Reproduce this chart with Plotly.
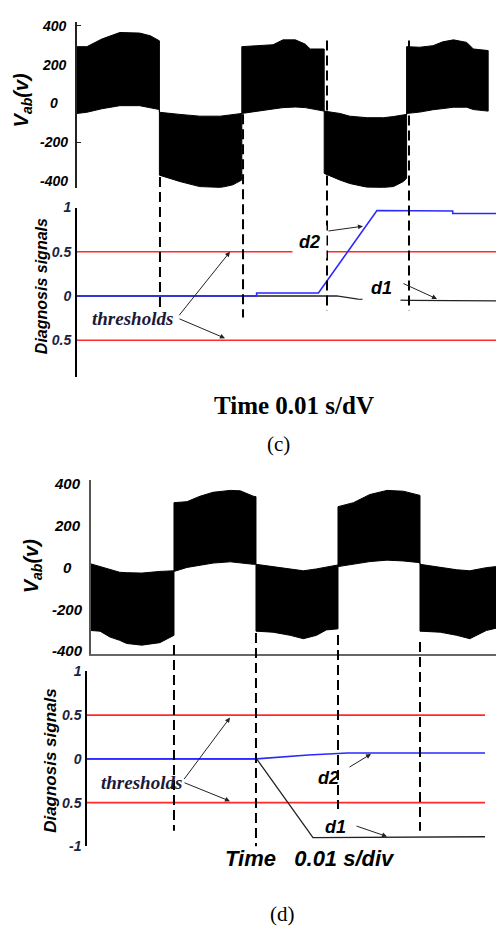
import plotly.graph_objects as go

W, H = 496, 933

# ---------------- data ----------------
# panel (c): PWM line-voltage envelope (V) vs time (ms)
c_time = [0, 1.2, 3.0, 5.2, 7.6, 8.9, 10.0,
          10.0, 12.5, 14.9, 17.4, 18.9, 20.0,
          20.0, 23.8, 25.0, 26.5, 27.7, 28.3, 30.0,
          30.0, 31.9, 33.1, 35.2, 37.2, 38.4, 39.6, 40.0,
          40.0, 41.6, 43.2, 44.4, 45.7, 47.3, 48.1, 49.9]
c_upper = [292, 292, 331, 365, 362, 348, 322,
           -46, -57, -66, -66, -60, -52,
           292, 302, 327, 327, 305, 280, 280,
           -40, -52, -66, -74, -74, -68, -60, -57,
           292, 289, 297, 317, 327, 314, 280, 272]
c_lower = [-52, -46, -28, -12, -12, -22, -32,
           -370, -403, -429, -434, -420, -395,
           -52, -29, -22, -19, -22, -24, -40,
           -361, -395, -413, -432, -434, -429, -403, -386,
           -52, -45, -33, -27, -20, -20, -32, -40]
c_marks = [10.07, 20.15, 30.34, 40.29]
c_d2_t = [0, 21.8, 21.8, 29.3, 36.4, 41.4, 41.4, 45.6, 45.6, 50.85]
c_d2_v = [0, 0, 0.033, 0.033, 0.967, 0.967, 0.96, 0.96, 0.933, 0.933]
c_d1_t = [0, 31.5, 34.1, 40.4, 50.85]
c_d1_v = [0, 0, -0.035, -0.05, -0.055]
c_thr_t = [0, 50.85]

# panel (d)
d_time = [0, 1.1, 2.3, 3.5, 4.35, 6.2, 8.4, 10.12,
          10.12, 11.7, 13.3, 14.9, 17.0, 18.2, 19.8, 20.12,
          20.12, 22.2, 24.3, 25.9, 27.5, 28.7, 30.12,
          30.12, 32.0, 34.0, 36.1, 38.1, 40.12,
          40.12, 42.6, 44.6, 46.2, 48.2, 49.39]
d_upper = [16, 3, -12, -24, -26, -28, -20, -17,
           309, 314, 340, 359, 368, 366, 340, 338,
           14, 3, -5, -17, -8, 2, 11,
           290, 309, 348, 368, 364, 344,
           14, -2, -12, -17, -2, 3]
d_lower = [-303, -306, -334, -350, -365, -373, -361, -326,
           -20, -1, 11, 20, 26, 19, 14, 14,
           -306, -311, -326, -342, -326, -300, -295,
           3, 14, 27, 34, 30, 22,
           -306, -311, -326, -342, -303, -292]
d_marks = [10.12, 20.12, 30.12, 40.12]
d_d2_t = [-0.49, 20.2, 26.5, 31.3, 48.05]
d_d2_v = [0, 0, 0.045, 0.067, 0.067]
d_d1_t = [-0.49, 20.2, 27.07, 48.05]
d_d1_v = [0, 0, -0.9, -0.89]
d_thr_t = [-0.49, 48.05]

thresholds = [0.5, -0.5]
vab_ticks = [400, 200, 0, -200, -400]
c_vab_tickmarks = [400, -200]
diag_ticks_c = [1, 0.5, 0, -0.5]
diag_text_c = ["1", "0.5", "0", "0.5"]
diag_ticks_d = [1, 0.5, 0, -0.5, -1]
diag_text_d = ["1", "0.5", "0", "0.5", "-1"]


def px(p):
    return p / W


def py(p):
    return 1 - p / H


SANS = "Liberation Sans, Arial, sans-serif"
SERIF = "Liberation Serif, Times New Roman, serif"

fig = go.Figure()

# waveforms (filled PWM envelope)
fig.add_trace(go.Scatter(x=c_time + c_time[::-1], y=c_upper + c_lower[::-1],
                         fill="toself", fillcolor="black", mode="lines",
                         line=dict(color="black", width=1), xaxis="x", yaxis="y",
                         hoverinfo="skip"))
fig.add_trace(go.Scatter(x=d_time + d_time[::-1], y=d_upper + d_lower[::-1],
                         fill="toself", fillcolor="black", mode="lines",
                         line=dict(color="black", width=1), xaxis="x3", yaxis="y3",
                         hoverinfo="skip"))

# diagnosis signals (c)
for th in thresholds:
    fig.add_trace(go.Scatter(x=c_thr_t, y=[th, th], mode="lines",
                             line=dict(color="#ff2a2a", width=1.6), xaxis="x2", yaxis="y2"))
fig.add_trace(go.Scatter(x=c_d1_t, y=c_d1_v, mode="lines",
                         line=dict(color="#222222", width=1.3), xaxis="x2", yaxis="y2"))
fig.add_trace(go.Scatter(x=c_d2_t, y=c_d2_v, mode="lines",
                         line=dict(color="#2a2aff", width=1.6), xaxis="x2", yaxis="y2"))

# diagnosis signals (d)
for th in thresholds:
    fig.add_trace(go.Scatter(x=d_thr_t, y=[th, th], mode="lines",
                             line=dict(color="#ff2a2a", width=1.6), xaxis="x4", yaxis="y4"))
fig.add_trace(go.Scatter(x=d_d1_t, y=d_d1_v, mode="lines",
                         line=dict(color="#222222", width=1.3), xaxis="x4", yaxis="y4"))
fig.add_trace(go.Scatter(x=d_d2_t, y=d_d2_v, mode="lines",
                         line=dict(color="#2a2aff", width=1.6), xaxis="x4", yaxis="y4"))

# dashed fault markers
c_tops = [172, 108, 33, 33]
c_bots = [307, 315, 308, 308]
d_tops = [648, 636, 638, 645]
d_bots = [837, 853, 815, 837]
shapes = []
for t, a, b in zip(c_marks, c_tops, c_bots):
    shapes.append(dict(type="line", xref="x", yref="paper", x0=t, x1=t, y0=py(a), y1=py(b),
                       line=dict(color="black", width=2, dash="10px,5px")))
for t, a, b in zip(d_marks, d_tops, d_bots):
    shapes.append(dict(type="line", xref="x3", yref="paper", x0=t, x1=t, y0=py(a), y1=py(b),
                       line=dict(color="black", width=2, dash="10px,5px")))

ann = []


def label(x, y, text, font, angle=0, **kw):
    d = dict(x=px(x), y=py(y), xref="paper", yref="paper", showarrow=False, text=text,
             font=font, textangle=angle, xanchor="center", yanchor="middle")
    d.update(kw)
    return d


# tick labels of voltage axes (centered like original)
for v in vab_ticks:
    ann.append(dict(x=px(54), y=v, xref="paper", yref="y", showarrow=False,
                    text="<b><i>%d</i></b>" % v, font=dict(family=SANS, size=14, color="black"),
                    xanchor="center", yanchor="middle"))
    ann.append(dict(x=px(67), y=v, xref="paper", yref="y3", showarrow=False,
                    text="<b><i>%d</i></b>" % v, font=dict(family=SANS, size=15, color="black"),
                    xanchor="center", yanchor="middle"))

# axis titles
vab = "<b><i>V<sub>ab</sub>(v)</i></b>"
ann.append(label(22, 94, vab, dict(family=SANS, size=20, color="black"), -90))
ann.append(label(32, 568, vab, dict(family=SANS, size=20, color="black"), -90))
ann.append(label(41, 283, "<b><i>Diagnosis signals</i></b>",
                 dict(family=SANS, size=16, color="black"), -90))
ann.append(label(51, 766, "<b><i>Diagnosis signals</i></b>",
                 dict(family=SANS, size=17, color="black"), -90))

# thresholds labels + arrows
thr_font = dict(family=SERIF, size=19, color="#1a1a3a")
ann.append(label(132, 316, "<b><i>thresholds</i></b>", thr_font))
ann.append(label(141, 788, "<b><i>thresholds</i></b>", thr_font))


def arrow(hx, hy, tx, ty):
    return dict(x=px(hx), y=py(hy), xref="paper", yref="paper", ax=tx - hx, ay=ty - hy,
                axref="pixel", ayref="pixel", text="", showarrow=True, arrowhead=2,
                arrowsize=1, arrowwidth=1, arrowcolor="#222222", standoff=0, startstandoff=0)


ann += [arrow(230, 248, 178, 313), arrow(225, 336, 178, 316),
        arrow(363, 222, 327, 227), arrow(437, 296, 402, 280),
        arrow(230, 722, 183, 785), arrow(230, 807, 183, 788),
        arrow(371, 759, 348, 773), arrow(387, 843, 355, 832)]

lab_font = dict(family=SANS, size=18, color="black")
ann.append(label(309, 238, "<b><i>d2</i></b>", lab_font, bgcolor="white", borderpad=6))
ann.append(label(381, 285, "<b><i>d1</i></b>", lab_font, bgcolor="white", borderpad=8))
ann.append(label(328, 783, "<b><i>d2</i></b>", lab_font))
ann.append(label(335, 833, "<b><i>d1</i></b>", lab_font))

# time labels and captions
ann.append(label(294, 404, "<b>Time 0.01 s/dV</b>", dict(family=SERIF, size=25, color="black")))
ann.append(label(278, 444, "(c)", dict(family=SERIF, size=21, color="black")))
ann.append(label(310, 865, "<b><i>Time&nbsp;&nbsp;&nbsp;0.01 s/div</i></b>",
                 dict(family=SANS, size=22, color="black")))
ann.append(label(282, 922, "(d)", dict(family=SERIF, size=21, color="black")))

diag_tickfont = dict(family=SANS, size=14, color="#1c2340")

fig.update_layout(
    width=W, height=H, margin=dict(l=0, r=0, t=0, b=0),
    paper_bgcolor="white", plot_bgcolor="white", showlegend=False,
    shapes=shapes, annotations=ann,
    xaxis=dict(domain=[px(77), 1], range=[0, 50.85], visible=False, anchor="y"),
    yaxis=dict(domain=[py(183), py(14)], range=[-435.4, 420.3], anchor="x",
               showline=True, linecolor="#222222", linewidth=1.5, showgrid=False,
               zeroline=False, showticklabels=False, ticks="inside", ticklen=4,
               tickcolor="#222222", tickvals=c_vab_tickmarks),
    xaxis2=dict(domain=[px(77), 1], range=[0, 50.85], visible=False, anchor="y2"),
    yaxis2=dict(domain=[py(375), py(203)], range=[-0.911, 1.0], anchor="x2",
                showline=True, linecolor="black", linewidth=2, showgrid=False, zeroline=False,
                tickvals=diag_ticks_c, ticktext=["<b><i>%s</i></b>" % s for s in diag_text_c],
                tickfont=diag_tickfont, ticks="", ticklabelstandoff=1),
    xaxis3=dict(domain=[px(91), 1], range=[0, 49.39], anchor="y3", showline=True,
                linecolor="#666666", linewidth=2, showgrid=False, zeroline=False,
                showticklabels=False, ticks=""),
    yaxis3=dict(domain=[py(657), py(480)], range=[-414.1, 418.8], anchor="x3",
                showline=True, linecolor="#555555", linewidth=1.5, showgrid=False,
                zeroline=False, showticklabels=False, ticks=""),
    xaxis4=dict(domain=[px(87), px(485)], range=[-0.49, 48.05], visible=False, anchor="y4"),
    yaxis4=dict(domain=[py(853), py(675)], range=[-1, 1], anchor="x4",
                showline=True, linecolor="black", linewidth=1.5, showgrid=False, zeroline=False,
                tickvals=diag_ticks_d, ticktext=["<b><i>%s</i></b>" % s for s in diag_text_d],
                tickfont=diag_tickfont, ticks="", ticklabelstandoff=1),
)

fig.write_html("out.html")
